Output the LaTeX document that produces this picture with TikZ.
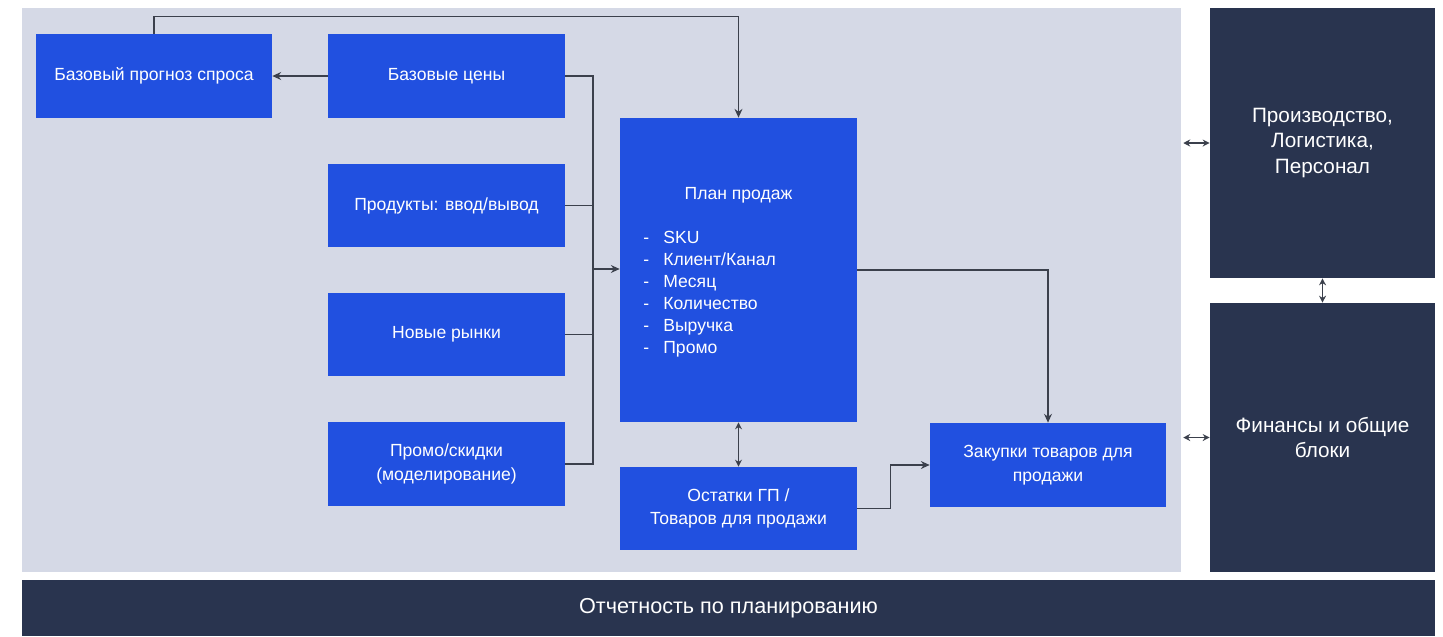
\documentclass[tikz,border=0pt]{standalone}
\usepackage{fontspec}
\setmainfont{Liberation Sans}
\usetikzlibrary{arrows.meta}
\definecolor{blockblue}{HTML}{2150E0}
\definecolor{darkblock}{HTML}{29344F}
\definecolor{panelgrey}{HTML}{D5D9E6}
\definecolor{linegrey}{HTML}{3B404C}
\newcommand{\planitem}[1]{\makebox[0.4cm][l]{-}#1}
\begin{document}
\begin{tikzpicture}[x=0.02cm,y=-0.02cm]
\tikzstyle{dep}= [-{Stealth[length=5pt,width=4.5pt]},line width=0.85pt,draw=linegrey]
\tikzstyle{bidep}= [{Stealth[length=4pt,width=4pt]}-{Stealth[length=4pt,width=4pt]},line width=0.85pt,draw=linegrey]
\tikzstyle{bb}= [rectangle,fill=blockblue,text=white,minimum width=4.74cm,minimum height=1.68cm,inner sep=0pt,align=center,font=\fontsize{10}{13.5}\selectfont]
\tikzstyle{dk}= [rectangle,fill=darkblock,text=white,minimum width=4.5cm,inner sep=0pt,align=center,font=\fontsize{11.8}{14.5}\selectfont]
\tikzstyle{txt}= [inner sep=0pt,text=white,font=\fontsize{10}{12.5}\selectfont]

\useasboundingbox (0,0) rectangle (1443,636);
\path
	( 601.5, 290) node[rectangle,fill=panelgrey,minimum width=23.18cm,minimum height=11.28cm] (area) {}
	( 154,  76) node[bb,minimum width=4.72cm] (prognoz) {Базовый прогноз спроса}
	( 446.5, 76) node[bb] (prices) {Базовые цены}
	( 446.5,205.5) node[bb,minimum height=1.66cm] (products) {Продукты: ввод/вывод}
	( 446.5,334.5) node[bb,minimum height=1.66cm] (markets) {Новые рынки}
	( 446.5,464) node[bb] (promo) {Промо/скидки\\(моделирование)}
	( 738.5,270) node[bb,minimum height=6.08cm] (plan) {}
	( 738.5,508.5) node[bb,minimum height=1.66cm] (stock) {Остатки ГП /\\Товаров для продажи}
	(1048, 465) node[bb,minimum width=4.72cm] (purchase) {Закупки товаров для\\продажи}
	(1322.5,143) node[dk,minimum height=5.4cm] (prod) {Производство,\\Логистика,\\Персонал}
	(1322.5,437.5) node[dk,minimum height=5.38cm] (fin) {Финансы и общие\\блоки}
	( 728.5,608) node[rectangle,fill=darkblock,text=white,minimum width=28.26cm,minimum height=1.12cm,font=\fontsize{12.3}{14}\selectfont] (report) {Отчетность по планированию}
;
\path
	( 738.5,195) node[txt] (plantitle) {План продаж}
	( 643, 231) node[txt,anchor=north west,align=left] (planlist) {\planitem{SKU}\\\planitem{Клиент/Канал}\\\planitem{Месяц}\\\planitem{Количество}\\\planitem{Выручка}\\\planitem{Промо}}
;
\coordinate (bus) at (593,269);
\draw[dep] (prices) -- (prognoz);
\draw[dep] (prognoz.north) -- ++(0,-17) -| (plan.north);
\draw[dep] (prices.east) -| (bus) -- (bus -| plan.west);
\draw[linegrey,line width=0.85pt] (products.east) -- (products.east -| bus);
\draw[linegrey,line width=0.85pt] (markets.east) -- (markets.east -| bus);
\draw[linegrey,line width=0.85pt] (promo.east) -| (bus);
\draw[dep] (plan.east) -| (purchase.north);
\draw[bidep] (plan.south) -- (stock.north);
\draw[dep] (stock.east) -- ++(33,0) |- (purchase.west);
\draw[bidep] (prod.west -| area.east) ++(2,0) -- (prod.west);
\draw[bidep] (fin.west -| area.east) ++(2,0) -- (fin.west);
\draw[bidep] (prod.south) -- (fin.north);
\end{tikzpicture}
\end{document}
